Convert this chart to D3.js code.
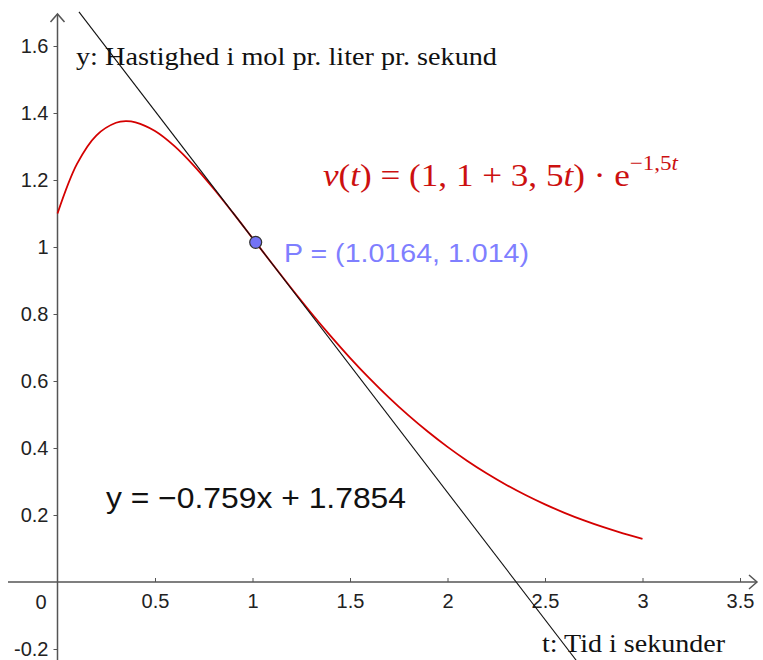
<!DOCTYPE html>
<html>
<head>
<meta charset="utf-8">
<script src="https://cdn.jsdelivr.net/npm/d3@7"></script>
<style>
  body { margin: 0; background: #fff; }
  svg { display: block; }
</style>
</head>
<body>
<script>
// v(t) = (1,1 + 3,5t) * e^(-1,5t)
let tValues = [0, 0.1, 0.2, 0.3, 0.35, 0.4, 0.5, 0.6, 0.7, 0.8, 0.9, 1.0, 1.1, 1.2, 1.3, 1.4, 1.5,
    1.6, 1.7, 1.8, 1.9, 2.0, 2.1, 2.2, 2.3, 2.4, 2.5, 2.6, 2.7, 2.8, 2.9, 3.0];
let vValues = [1.1, 1.248, 1.3335, 1.3709, 1.3755, 1.372, 1.3462, 1.301, 1.2423, 1.1747, 1.1018, 1.0264,
    0.9506, 0.8761, 0.8038, 0.7347, 0.6693, 0.6078, 0.5505, 0.4973, 0.4483, 0.4033, 0.3621, 0.3246,
    0.2905, 0.2596, 0.2317, 0.2065, 0.1838, 0.1635, 0.1452, 0.1289];

// tangent y = -0.759x + 1.7854, ends as seen in the picture
let tangentT = [0.11, 2.66];
let tangentV = [1.7019, -0.2336];

let pointP = { t: 1.0164, v: 1.014 };

let xTicks = [0.5, 1, 1.5, 2, 2.5, 3, 3.5];
let yTicks = [-0.2, 0.2, 0.4, 0.6, 0.8, 1, 1.2, 1.4, 1.6];

let width = 763,
    height = 660;

let svg = d3.select("body").append("svg")
    .attr("width", width).attr("height", height);

let xScale = d3.scaleLinear().domain([0, 3.5]).range([57.5, 740]);
let yScale = d3.scaleLinear().domain([0, 1.6]).range([582, 46]);

let axisColor = "#555";
let tickFont = "'Liberation Sans', Arial, sans-serif";

// axes
let xAxis = d3.axisBottom(xScale).tickValues(xTicks).tickSize(-4).tickPadding(12)
    .tickFormat((d) => d);
let yAxis = d3.axisLeft(yScale).tickValues(yTicks).tickSize(4).tickPadding(5)
    .tickFormat((d) => d);

let gx = svg.append("g").attr("transform", "translate(0," + yScale(0) + ")").call(xAxis);
let gy = svg.append("g").attr("transform", "translate(" + xScale(0) + ",0)").call(yAxis);
[gx, gy].forEach((g) => {
    g.select(".domain").remove();
    g.selectAll("line").attr("stroke", axisColor);
    g.selectAll("text").attr("font-family", tickFont).attr("font-size", 20).attr("fill", "#222");
});

// axis lines with open arrowheads
svg.append("line").attr("x1", 8).attr("x2", 757).attr("y1", yScale(0)).attr("y2", yScale(0))
    .attr("stroke", axisColor).attr("stroke-width", 1.5);
svg.append("path").attr("d", "M749," + (yScale(0) - 7) + " L757," + yScale(0) + " L749," + (yScale(0) + 7))
    .attr("fill", "none").attr("stroke", axisColor).attr("stroke-width", 1.5);
svg.append("line").attr("x1", xScale(0)).attr("x2", xScale(0)).attr("y1", 660).attr("y2", 14)
    .attr("stroke", axisColor).attr("stroke-width", 1.5);
svg.append("path").attr("d", "M" + (xScale(0) - 7) + ",22 L" + xScale(0) + ",14 L" + (xScale(0) + 7) + ",22")
    .attr("fill", "none").attr("stroke", axisColor).attr("stroke-width", 1.5);

svg.append("text").attr("x", 41).attr("y", 609).attr("text-anchor", "middle")
    .attr("font-family", tickFont).attr("font-size", 20).attr("fill", "#222").text("0");

// curve
let line = d3.line()
    .x((d, i) => xScale(tValues[i]))
    .y((d, i) => yScale(vValues[i]))
    .curve(d3.curveCatmullRom);
svg.append("path").datum(vValues).attr("d", line)
    .attr("fill", "none").attr("stroke", "#d40000").attr("stroke-width", 1.8);

// tangent
svg.append("line")
    .attr("x1", xScale(tangentT[0])).attr("y1", yScale(tangentV[0]))
    .attr("x2", xScale(tangentT[1])).attr("y2", yScale(tangentV[1]))
    .attr("stroke", "#111").attr("stroke-width", 1.1);

// point P
svg.append("circle").attr("cx", xScale(pointP.t)).attr("cy", yScale(pointP.v)).attr("r", 6)
    .attr("fill", "#7373f5").attr("stroke", "#333").attr("stroke-width", 1.2);
svg.append("text").attr("x", 284).attr("y", 262)
    .attr("font-family", tickFont).attr("font-size", 25).attr("fill", "#7f7fff")
    .attr("textLength", 245).attr("lengthAdjust", "spacingAndGlyphs")
    .text("P = (" + pointP.t + ", " + pointP.v + ")");

// labels
let serif = "'Liberation Serif', 'Times New Roman', serif";
svg.append("text").attr("x", 76).attr("y", 65)
    .attr("font-family", serif).attr("font-size", 25).attr("fill", "#111")
    .attr("textLength", 421).attr("lengthAdjust", "spacingAndGlyphs")
    .text("y: Hastighed i mol pr. liter pr. sekund");
svg.append("text").attr("x", 542).attr("y", 652)
    .attr("font-family", serif).attr("font-size", 25).attr("fill", "#111")
    .attr("textLength", 183).attr("lengthAdjust", "spacingAndGlyphs")
    .text("t: Tid i sekunder");

svg.append("text").attr("x", 106).attr("y", 508)
    .attr("font-family", tickFont).attr("font-size", 29).attr("fill", "#111")
    .attr("textLength", 300).attr("lengthAdjust", "spacingAndGlyphs")
    .text("y = \u22120.759x + 1.7854");

// formula
let f = svg.append("text").attr("x", 323).attr("y", 186)
    .attr("font-family", serif).attr("font-size", 32).attr("fill", "#cc1010")
    .attr("textLength", 355).attr("lengthAdjust", "spacingAndGlyphs");
f.append("tspan").attr("font-style", "italic").text("v");
f.append("tspan").text("(");
f.append("tspan").attr("font-style", "italic").text("t");
f.append("tspan").text(")  =  (1, 1 + 3, 5");
f.append("tspan").attr("font-style", "italic").text("t");
f.append("tspan").text(") \u00b7 e");
f.append("tspan").attr("font-size", 21).attr("dy", -16).text("\u22121,5");
f.append("tspan").attr("font-size", 21).attr("font-style", "italic").text("t");
</script>
</body>
</html>
